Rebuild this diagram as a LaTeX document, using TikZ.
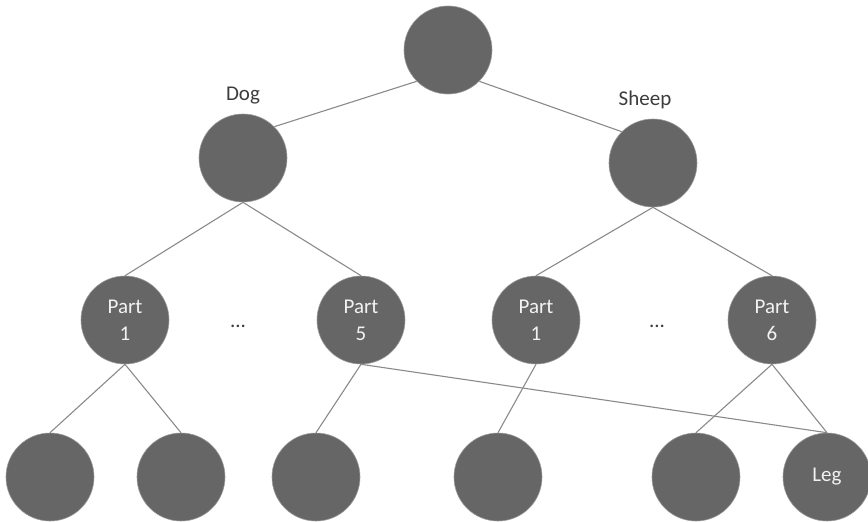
\documentclass[tikz,border=0pt]{standalone}
\usepackage{fontspec}
\setmainfont{Carlito}
\definecolor{ballgray}{HTML}{666666}
\definecolor{rimgray}{HTML}{9A9A9A}
\definecolor{linkgray}{HTML}{8A8A8A}
\definecolor{inkgray}{HTML}{3C3C3C}
\tikzset{
	ball/.style={circle, fill=ballgray, draw=rimgray, line width=0.6pt, minimum size=88pt, inner sep=0pt,
		text=white!95!black, align=center, font=\fontsize{21}{27}\selectfont},
	link/.style={draw=linkgray, line width=1.1pt},
	tag/.style={anchor=base, text=inkgray, font=\fontsize{21}{25}\selectfont}
}
\begin{document}
\begin{tikzpicture}[x=1pt, y=-1pt]
		\useasboundingbox (0,0) rectangle (868,522);
		% top and the two animals
		\node[ball] (root) at (448,50) {};
		\node[ball] (dog) at (243,158) {};
		\node[ball] (sheep) at (653,163) {};
		\node[tag] (dogtag) at (243,100) {Dog};
		\node[tag] (sheeptag) at (645,105) {Sheep};
		% parts
		\node[ball] (dpart1) at (125,320) {Part\\1};
		\node[ball] (dpart5) at (361,320) {Part\\5};
		\node[ball] (spart1) at (536,320) {Part\\1};
		\node[ball] (spart6) at (772,320) {Part\\6};
		\node[tag] (ddots) at (238,327) {...};
		\node[tag] (sdots) at (657,327) {...};
		% leaves
		\node[ball] (leafa) at (50,477) {};
		\node[ball] (leafb) at (181,477) {};
		\node[ball] (leafc) at (316,477) {};
		\node[ball] (leafd) at (498,477) {};
		\node[ball] (leafe) at (696,477) {};
		\node[ball] (leg) at (827,477) {Leg};
		% links
		\draw[link] (root.south west) -- (dog.north east);
		\draw[link] (root.south east) -- (sheep.north west);
		\draw[link] (dog.south) -- (dpart1.north);
		\draw[link] (dog.south) -- (dpart5.north);
		\draw[link] (sheep.south) -- (spart1.north);
		\draw[link] (sheep.south) -- (spart6.north);
		\draw[link] (dpart1.south) -- (leafa.north);
		\draw[link] (dpart1.south) -- (leafb.north);
		\draw[link] (dpart5.south) -- (leafc.north);
		\draw[link] (dpart5.south) -- (leg.north);
		\draw[link] (spart1.south) -- (leafd.north);
		\draw[link] (spart6.south) -- (leafe.north);
		\draw[link] (spart6.south) -- (leg.north);
	\end{tikzpicture}
\end{document}
